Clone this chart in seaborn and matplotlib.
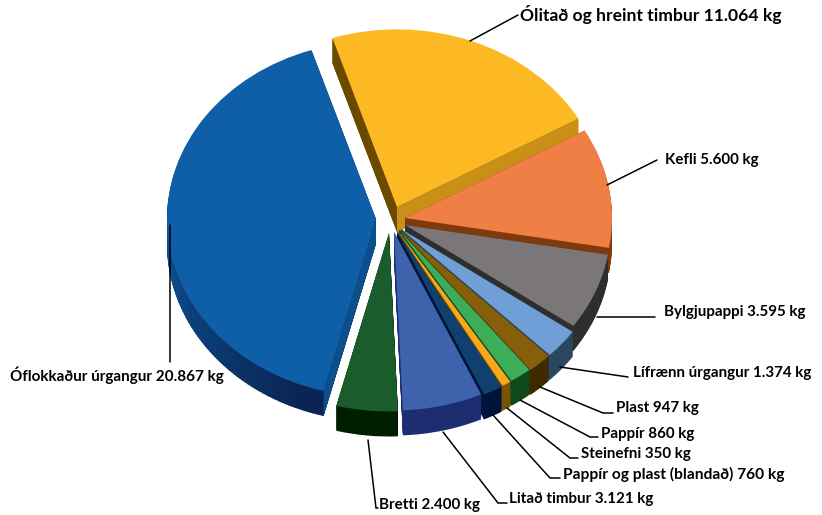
import matplotlib
matplotlib.use('Agg')
import matplotlib.pyplot as plt
from matplotlib.colors import to_rgb
from matplotlib.patches import Wedge, Polygon
import numpy as np
import seaborn as sns

sns.set_theme(style='white')
plt.rcParams['font.family'] = ['Lato', 'DejaVu Sans']

# waste fractions, clockwise from the yellow slice
names = ['Ólitað og hreint timbur', 'Kefli', 'Bylgjupappi', 'Lífrænn úrgangur', 'Plast', 'Pappír',
         'Steinefni', 'Pappír og plast (blandað)', 'Litað timbur', 'Bretti', 'Óflokkaður úrgangur']
amounts = [11064, 5600, 3595, 1374, 947, 860, 350, 760, 3121, 2400, 20867]
amount_text = ['11.064', '5.600', '3.595', '1.374', '947', '860', '350', '760', '3.121', '2.400', '20.867']

top_colors = sns.color_palette(['#FDB924', '#F07F45', '#7B7778', '#6F9FD6', '#875F0B', '#3DAD5A',
                                '#F9A71B', '#104070', '#3F62AD', '#1B5C2C', '#0F5FA8'])
rim_colors = ['#6B4A00', '#7F3A0B', '#2E2E2E', '#2B465F', '#3F2A00', '#0E4A1B',
              '#7A5300', '#00143A', '#1E2C70', '#001E00', '#0A2453']
end_face = ['#C98F17', '#7F3A0B', '#2E2E2E', '#2B465F', '#3F2A00', '#0E4A1B',
            '#7A5300', '#00143A', '#1E2C70', '#001E00', '#0A2453']
start_face = ['#6B4A00', '#7F3A0B', '#2E2E2E', '#2B465F', '#3F2A00', '#0E4A1B',
              '#7A5300', '#00143A', '#1E2C70', '#001E00', '#0B4F8C']
big_rim_light = '#0C5496'  # left end of the big slice's rim

# where each slice tip sits in the picture (pixels), and slice radius
apex_x = [397, 405, 405, 401, 400, 399, 398, 397, 394, 389, 376]
apex_y = [207, 218, 225, 229, 230, 230, 231, 232, 232, 233, 219]
radii = [209, 207, 206, 210, 210, 210, 210, 210, 210, 210, 209]
squash = 0.85
depth = 25

W, H = 822, 515
fig = plt.figure(figsize=(W / 100, H / 100), dpi=100, facecolor='white')
ax = fig.add_axes([0, 0, 1, 1])

wedges, _ = ax.pie(amounts, colors=top_colors, startangle=108, counterclock=False, radius=208,
                   center=(400, 250), wedgeprops={'linewidth': 0})
ax.set_aspect('auto')
ax.set_xlim(0, W)
ax.set_ylim(0, H / squash)
ax.axis('off')


def to_y(py):
    return (H - py) / squash


def rim_parts(i, w):
    # the big slice fades along its rim, the others are one colour
    if i != len(wedges) - 1:
        return [(w.theta1, w.theta2, rim_colors[i])]
    light, dark = np.array(to_rgb(big_rim_light)), np.array(to_rgb(rim_colors[i]))
    parts = []
    for a in np.arange(w.theta1, w.theta2, 1.0):
        t = np.clip(((a % 360) - 180) / 70, 0, 1)
        parts.append((a, min(a + 1.5, w.theta2), tuple(light + (dark - light) * t)))
    return parts


mid_y = []
for i, w in enumerate(wedges):
    w.set_center((apex_x[i], to_y(apex_y[i])))
    w.set_radius(radii[i])
    w.set_zorder(50 + i)
    mid_y.append(apex_y[i] - np.sin(np.radians((w.theta1 + w.theta2) / 2)) * radii[i] * squash)

# the sides, back slices first
dz = depth / squash
for i in np.argsort(mid_y):
    w = wedges[i]
    cx, cy = w.center
    for a, b, col in rim_parts(i, w):
        for step in np.arange(depth, 0, -1.0):
            ax.add_patch(Wedge((cx, cy - step / squash), w.r, a, b, fc=col, lw=0, zorder=10 + i))
    for theta, col in [(w.theta1, end_face[i]), (w.theta2, start_face[i])]:
        ex = cx + w.r * np.cos(np.radians(theta))
        ey = cy + w.r * np.sin(np.radians(theta))
        ax.add_patch(Polygon([(cx, cy), (ex, ey), (ex, ey - dz), (cx, cy - dz)], fc=col, lw=0, zorder=30 + i))

# labels and leader lines, in picture pixels
lab = fig.add_axes([0, 0, 1, 1], facecolor='none')
lab.set_xlim(0, W)
lab.set_ylim(H, 0)
lab.axis('off')

leader_x = [[470, 518], [607, 657], [597, 655], [560, 628], [540, 603, 613], [520, 590, 598],
            [507, 570, 578], [493, 550, 560], [443, 498, 507], [368, 376, 378], [170, 170]]
leader_y = [[41, 15], [185, 160], [317, 317], [367, 377], [387, 413, 413], [400, 437, 437],
            [408, 458, 458], [415, 478, 478], [432, 503, 503], [440, 508, 508], [225, 362]]
text_x = [520, 665, 664, 633, 616, 601, 581, 563, 509, 379, 10]
text_y = [15, 160, 312, 373, 408, 434, 454, 474, 499, 505, 375]
text_size = [12.6, 10.9, 10.9, 10.9, 10.9, 10.9, 10.9, 11.2, 10.9, 10.9, 11]

for i, name in enumerate(names):
    lab.plot(leader_x[i], leader_y[i], color='black', lw=1.1, solid_joinstyle='miter')
    lab.text(text_x[i], text_y[i], f'{name} {amount_text[i]} kg', fontsize=text_size[i], fontweight='bold',
             color='black', ha='left', va='center')

fig.savefig('out.png', dpi=100)
